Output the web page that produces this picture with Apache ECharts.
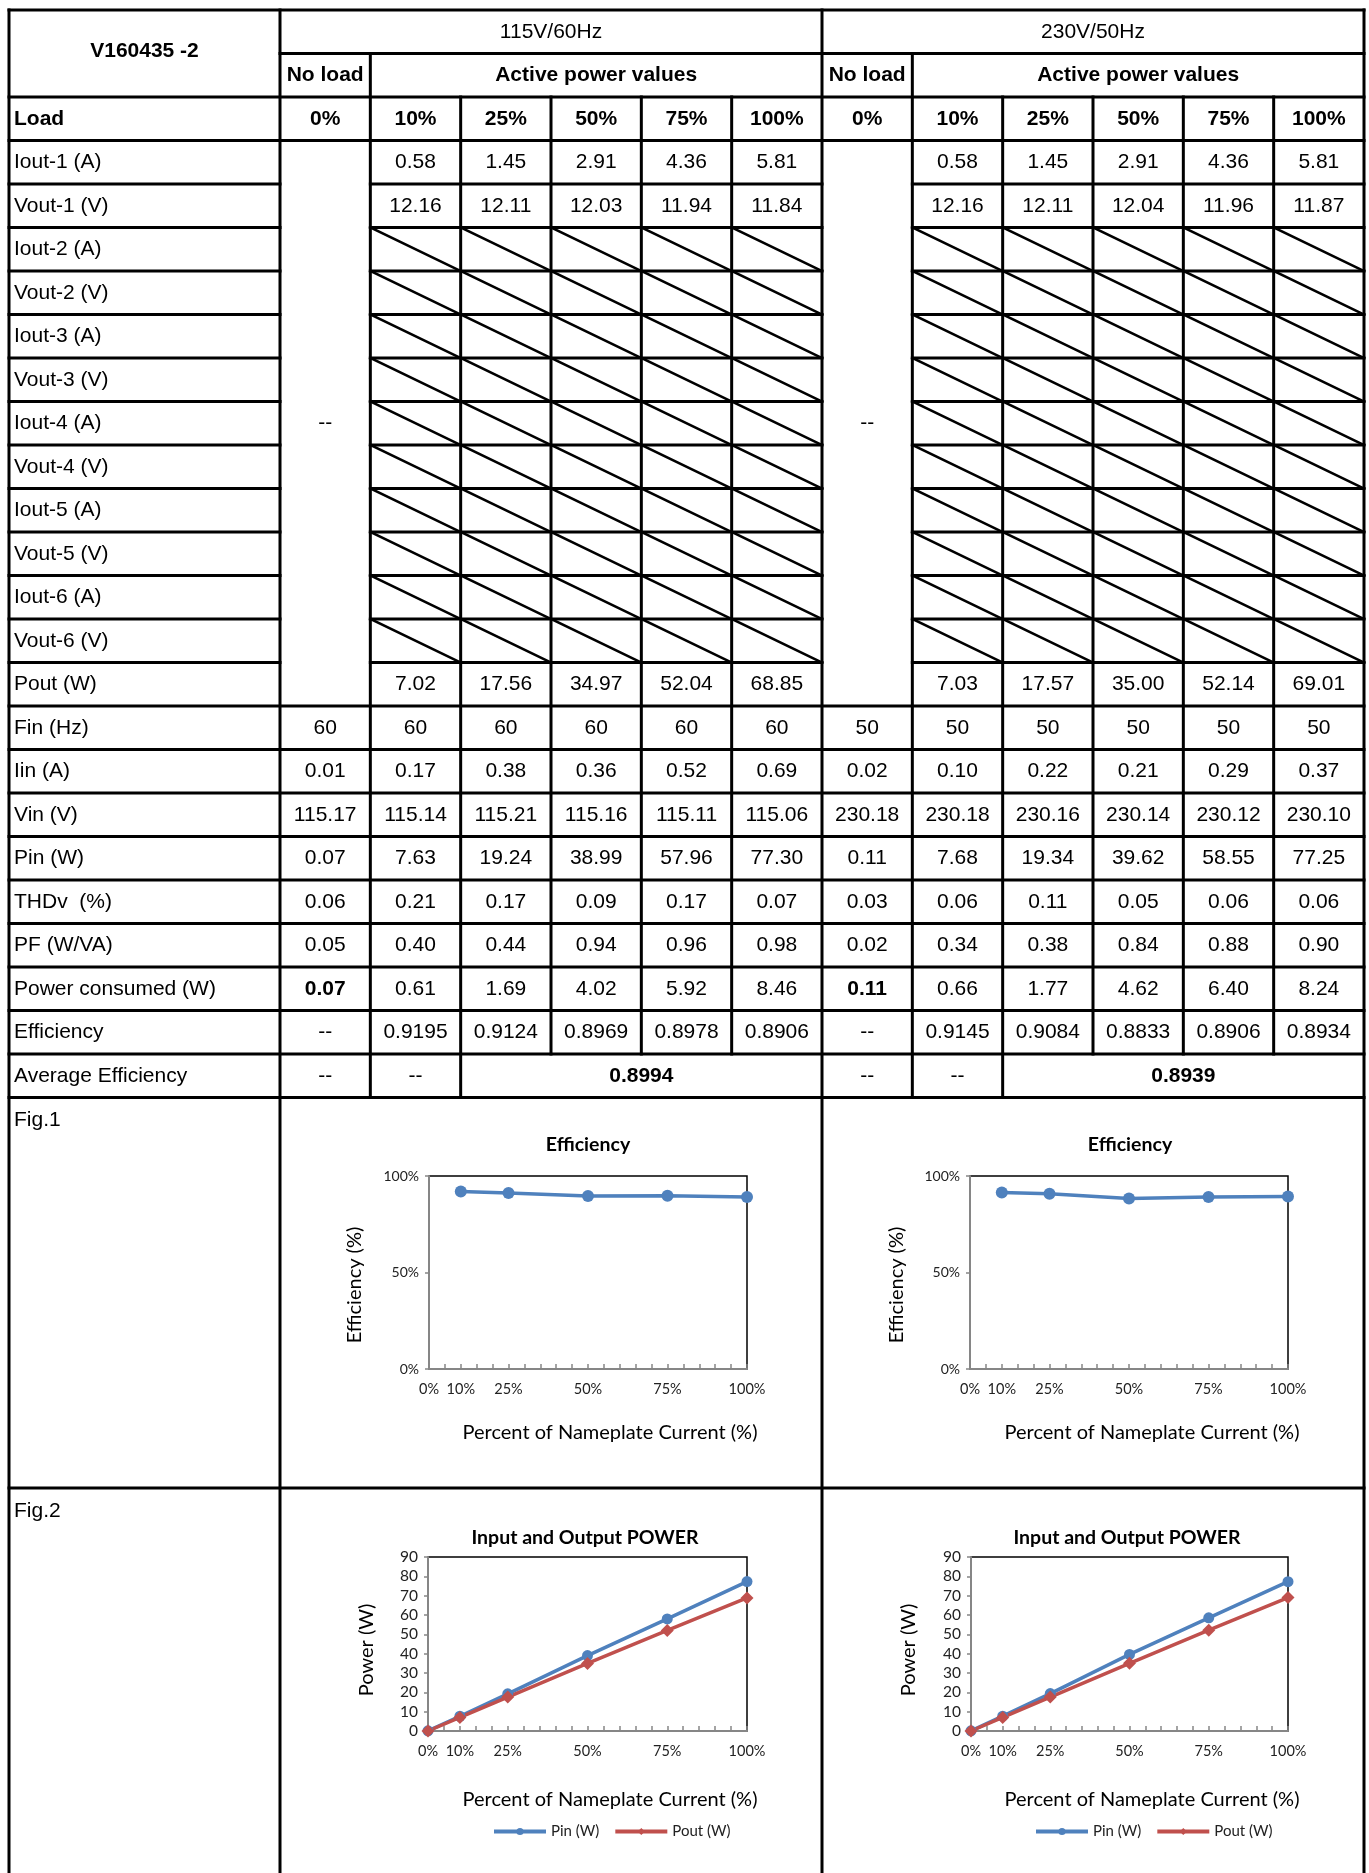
<!DOCTYPE html>
<html>
<head>
<meta charset="utf-8">
<script src="https://cdn.jsdelivr.net/npm/echarts@6/dist/echarts.min.js"></script>
<style>
  body { margin: 0; background: #fff; }
  #main { width: 1369px; height: 1873px; }
</style>
</head>
<body>
<div id="main"></div>
<script>
// load points (% of nameplate current)
const loads = [0, 10, 25, 50, 75, 100]
const rowLabels = ['Iout-1 (A)', 'Vout-1 (V)', 'Iout-2 (A)', 'Vout-2 (V)', 'Iout-3 (A)', 'Vout-3 (V)',
  'Iout-4 (A)', 'Vout-4 (V)', 'Iout-5 (A)', 'Vout-5 (V)', 'Iout-6 (A)', 'Vout-6 (V)', 'Pout (W)',
  'Fin (Hz)', 'Iin (A)', 'Vin (V)', 'Pin (W)', 'THDv  (%)', 'PF (W/VA)', 'Power consumed (W)',
  'Efficiency', 'Average Efficiency']

// 115V/60Hz
const iout1_115 = [0.58, 1.45, 2.91, 4.36, 5.81]
const vout1_115 = [12.16, 12.11, 12.03, 11.94, 11.84]
const pout_115 = [7.02, 17.56, 34.97, 52.04, 68.85]
const fin_115 = [60, 60, 60, 60, 60, 60]
const iin_115 = [0.01, 0.17, 0.38, 0.36, 0.52, 0.69]
const vin_115 = [115.17, 115.14, 115.21, 115.16, 115.11, 115.06]
const pin_115 = [0.07, 7.63, 19.24, 38.99, 57.96, 77.30]
const thd_115 = [0.06, 0.21, 0.17, 0.09, 0.17, 0.07]
const pf_115 = [0.05, 0.40, 0.44, 0.94, 0.96, 0.98]
const loss_115 = [0.07, 0.61, 1.69, 4.02, 5.92, 8.46]
const eff_115 = [0.9195, 0.9124, 0.8969, 0.8978, 0.8906]
const avgEff_115 = 0.8994

// 230V/50Hz
const iout1_230 = [0.58, 1.45, 2.91, 4.36, 5.81]
const vout1_230 = [12.16, 12.11, 12.04, 11.96, 11.87]
const pout_230 = [7.03, 17.57, 35.00, 52.14, 69.01]
const fin_230 = [50, 50, 50, 50, 50, 50]
const iin_230 = [0.02, 0.10, 0.22, 0.21, 0.29, 0.37]
const vin_230 = [230.18, 230.18, 230.16, 230.14, 230.12, 230.10]
const pin_230 = [0.11, 7.68, 19.34, 39.62, 58.55, 77.25]
const thd_230 = [0.03, 0.06, 0.11, 0.05, 0.06, 0.06]
const pf_230 = [0.02, 0.34, 0.38, 0.84, 0.88, 0.90]
const loss_230 = [0.11, 0.66, 1.77, 4.62, 6.40, 8.24]
const eff_230 = [0.9145, 0.9084, 0.8833, 0.8906, 0.8934]
const avgEff_230 = 0.8939

const xTickLabels = [0, 10, 25, 50, 75, 100]

// ---- table layout ----
const LEFT = 9, RIGHT = 1364
const CW = (RIGHT - 280) / 12
const RH = 43.5
const TOP = 10
const FIG_LINE = 1488
const BOTTOM = 1873
const colX = k => 280 + k * CW
const rowY = r => TOP + r * RH
const rowMid = r => TOP + r * RH + RH / 2

const tableFont = '21px "Liberation Sans", Arial, sans-serif'
const tableBold = 'bold 21px "Liberation Sans", Arial, sans-serif'
const chartFont = 'Lato, "Open Sans", sans-serif'

let graphics = []

function line(x1, y1, x2, y2, w) {
  graphics.push({
    type: 'line', z: 10, silent: true,
    shape: { x1: x1, y1: y1, x2: x2, y2: y2 },
    style: { stroke: '#000', lineWidth: w || 3, lineCap: 'square' }
  })
}
function text(t, x, y, align, font, rot) {
  graphics.push({
    type: 'text', z: 11, silent: true, x: x, y: y, rotation: rot || 0,
    style: { text: t, align: align || 'center', verticalAlign: 'middle', font: font || tableFont, fill: '#000' }
  })
}

// horizontal rules
line(LEFT, rowY(0), RIGHT, rowY(0))
line(colX(0), rowY(1), RIGHT, rowY(1))
line(LEFT, rowY(2), RIGHT, rowY(2))
line(LEFT, rowY(3), RIGHT, rowY(3))
for (let r = 4; r <= 15; r++) {
  let y = rowY(r)
  line(LEFT, y, colX(0), y)
  line(colX(1), y, colX(6), y)
  line(colX(7), y, colX(12), y)
}
for (let r = 16; r <= 25; r++) line(LEFT, rowY(r), RIGHT, rowY(r))
line(LEFT, FIG_LINE, RIGHT, FIG_LINE)

// vertical rules
line(LEFT, rowY(0), LEFT, BOTTOM + 5)
;[0, 6, 12].forEach(k => line(colX(k), rowY(0), colX(k), BOTTOM + 5))
;[1, 7].forEach(k => line(colX(k), rowY(1), colX(k), rowY(25)))
;[2, 8].forEach(k => line(colX(k), rowY(2), colX(k), rowY(25)))
;[3, 4, 5, 9, 10, 11].forEach(k => line(colX(k), rowY(2), colX(k), rowY(24)))

// crossed-out cells (unused outputs 2..6)
for (let r = 5; r <= 14; r++) {
  ;[1, 2, 3, 4, 5, 7, 8, 9, 10, 11].forEach(k => line(colX(k), rowY(r), colX(k + 1), rowY(r + 1), 2.6))
}

// header
text('V160435 -2', (LEFT + colX(0)) / 2, rowY(1) - 2, 'center', tableBold)
text('115V/60Hz', (colX(0) + colX(6)) / 2, rowMid(0))
text('230V/50Hz', (colX(6) + colX(12)) / 2, rowMid(0))
;[0, 6].forEach(s => {
  text('No load', colX(s) + CW / 2, rowMid(1), 'center', tableBold)
  text('Active power values', (colX(s + 1) + colX(s + 6)) / 2, rowMid(1), 'center', tableBold)
})
text('Load', 14, rowMid(2), 'left', tableBold)
rowLabels.forEach((l, i) => text(l, 14, rowMid(i + 3), 'left'))
text('Fig.1', 14, rowY(25) + 23, 'left')
text('Fig.2', 14, FIG_LINE + 23, 'left')

function fillSection(s, d) {
  let cx = c => colX(s + c) + CW / 2
  loads.forEach((p, c) => text(p + '%', cx(c), rowMid(2), 'center', tableBold))
  d.iout1.forEach((v, i) => text(v.toFixed(2), cx(i + 1), rowMid(3)))
  d.vout1.forEach((v, i) => text(v.toFixed(2), cx(i + 1), rowMid(4)))
  d.pout.forEach((v, i) => text(v.toFixed(2), cx(i + 1), rowMid(15)))
  text('--', cx(0), (rowY(3) + rowY(16)) / 2)
  d.fin.forEach((v, i) => text(String(v), cx(i), rowMid(16)))
  d.iin.forEach((v, i) => text(v.toFixed(2), cx(i), rowMid(17)))
  d.vin.forEach((v, i) => text(v.toFixed(2), cx(i), rowMid(18)))
  d.pin.forEach((v, i) => text(v.toFixed(2), cx(i), rowMid(19)))
  d.thd.forEach((v, i) => text(v.toFixed(2), cx(i), rowMid(20)))
  d.pf.forEach((v, i) => text(v.toFixed(2), cx(i), rowMid(21)))
  d.loss.forEach((v, i) => text(v.toFixed(2), cx(i), rowMid(22), 'center', i == 0 ? tableBold : tableFont))
  text('--', cx(0), rowMid(23))
  d.eff.forEach((v, i) => text(v.toFixed(4), cx(i + 1), rowMid(23)))
  text('--', cx(0), rowMid(24))
  text('--', cx(1), rowMid(24))
  text(d.avg.toFixed(4), (colX(s + 2) + colX(s + 6)) / 2, rowMid(24), 'center', tableBold)
}
fillSection(0, { iout1: iout1_115, vout1: vout1_115, pout: pout_115, fin: fin_115, iin: iin_115, vin: vin_115,
  pin: pin_115, thd: thd_115, pf: pf_115, loss: loss_115, eff: eff_115, avg: avgEff_115 })
fillSection(6, { iout1: iout1_230, vout1: vout1_230, pout: pout_230, fin: fin_230, iin: iin_230, vin: vin_230,
  pin: pin_230, thd: thd_230, pf: pf_230, loss: loss_230, eff: eff_230, avg: avgEff_230 })

// chart titles and axis names
const titleFont = 'bold 19.5px ' + chartFont
const nameFont = '20px ' + chartFont
;[0, 542].forEach(dx => {
  text('Efficiency', 588 + dx, 1145, 'center', titleFont)
  text('Efficiency (%)', 355 + dx, 1285, 'center', nameFont, Math.PI / 2)
  text('Percent of Nameplate Current (%)', 610 + dx, 1433, 'center', nameFont)
  text('Input and Output POWER', 585 + dx, 1538, 'center', titleFont)
  text('Power (W)', 367 + dx, 1650, 'center', nameFont, Math.PI / 2)
  text('Percent of Nameplate Current (%)', 610 + dx, 1800, 'center', nameFont)
})

// ---- charts ----
const BLUE = '#4F81BD', RED = '#C0504D'

function xAxisFor(g) {
  return {
    type: 'value', gridIndex: g, min: 0, max: 100, interval: 5,
    axisLine: { show: true, onZero: false, lineStyle: { color: '#868686', width: 2 } },
    axisTick: { show: true, inside: true, length: 5, lineStyle: { color: '#868686', width: 1.5 } },
    axisLabel: {
      margin: 13, fontSize: 14.5, color: '#222', fontFamily: chartFont,
      formatter: v => xTickLabels.indexOf(v) >= 0 ? v + '%' : ''
    },
    splitLine: { show: false }
  }
}
function yAxisFor(g, max, step, fmt, size) {
  return {
    type: 'value', gridIndex: g, min: 0, max: max, interval: step,
    axisLine: { show: true, lineStyle: { color: '#868686', width: 2 } },
    axisTick: { show: true, length: 4, lineStyle: { color: '#868686', width: 1.5 } },
    axisLabel: { margin: 10, fontSize: size, color: '#222', fontFamily: chartFont, formatter: fmt },
    splitLine: { show: false }
  }
}
function effSeries(g, eff) {
  return {
    type: 'line', xAxisIndex: g, yAxisIndex: g, name: 'Efficiency',
    data: eff.map((v, i) => [loads[i + 1], v * 100]),
    symbol: 'circle', symbolSize: 12,
    lineStyle: { color: BLUE, width: 3.5 }, itemStyle: { color: BLUE }
  }
}
function powerSeries(g, pin, pout) {
  return [{
    type: 'line', xAxisIndex: g, yAxisIndex: g, name: 'Pin (W)',
    data: pin.map((v, i) => [loads[i], v]),
    symbol: 'circle', symbolSize: 11,
    lineStyle: { color: BLUE, width: 3.5 }, itemStyle: { color: BLUE }
  }, {
    type: 'line', xAxisIndex: g, yAxisIndex: g, name: 'Pout (W)',
    data: [0].concat(pout).map((v, i) => [loads[i], v]),
    symbol: 'diamond', symbolSize: 13,
    lineStyle: { color: RED, width: 3.5 }, itemStyle: { color: RED }
  }]
}

const gridBase = { show: true, borderColor: '#000', borderWidth: 1.5, backgroundColor: '#fff' }

function legendAt(x) {
  return {
    left: x, top: 1819, itemWidth: 52, itemHeight: 9, itemGap: 14, data: ['Pin (W)', 'Pout (W)'],
    lineStyle: { width: 4 },
    textStyle: { fontSize: 15, color: '#222', fontFamily: chartFont }
  }
}

let option = {
  animation: false,
  backgroundColor: '#fff',
  grid: [
    Object.assign({ left: 429, top: 1176, width: 318, height: 193 }, gridBase),
    Object.assign({ left: 970, top: 1176, width: 318, height: 193 }, gridBase),
    Object.assign({ left: 428, top: 1557, width: 319, height: 174 }, gridBase),
    Object.assign({ left: 971, top: 1557, width: 317, height: 174 }, gridBase)
  ],
  xAxis: [xAxisFor(0), xAxisFor(1), xAxisFor(2), xAxisFor(3)],
  yAxis: [
    yAxisFor(0, 100, 50, '{value}%', 14),
    yAxisFor(1, 100, 50, '{value}%', 14),
    yAxisFor(2, 90, 10, '{value}', 15.5),
    yAxisFor(3, 90, 10, '{value}', 15.5)
  ],
  legend: [legendAt(487), legendAt(1029)],
  series: [effSeries(0, eff_115), effSeries(1, eff_230)]
    .concat(powerSeries(2, pin_115, pout_115))
    .concat(powerSeries(3, pin_230, pout_230)),
  graphic: { elements: graphics }
}

let chart = echarts.init(document.getElementById('main'))
chart.setOption(option)
</script>
</body>
</html>
